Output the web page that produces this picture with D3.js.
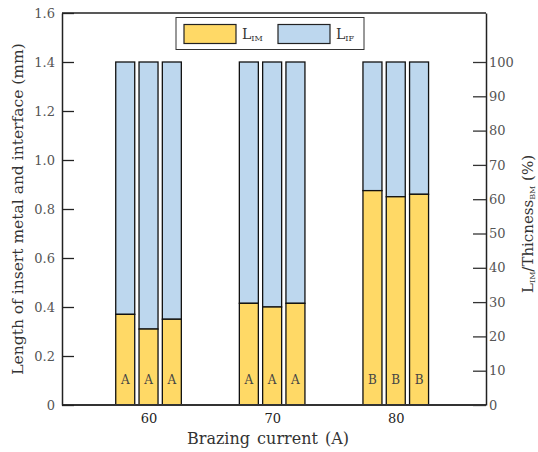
<!DOCTYPE html>
<html>
<head>
<meta charset="utf-8">
<script src="https://cdn.jsdelivr.net/npm/d3@7"></script>
<style>
  body { margin: 0; background: #fff; }
  text { font-family: "DejaVu Serif", "Liberation Serif", serif; }
</style>
</head>
<body>
<svg id="chart" width="538" height="452"></svg>
<script>
// data
const currents = [60, 70, 80];
const lIM = [
  [0.37, 0.31, 0.35],
  [0.415, 0.40, 0.415],
  [0.875, 0.85, 0.86]
];
const totalLen = [
  [1.4, 1.4, 1.4],
  [1.4, 1.4, 1.4],
  [1.4, 1.4, 1.4]
];
const groupLetters = ["A", "A", "B"];
const leftTicks = [0, 0.2, 0.4, 0.6, 0.8, 1.0, 1.2, 1.4, 1.6];
const rightTicks = [0, 10, 20, 30, 40, 50, 60, 70, 80, 90, 100];

const svg = d3.select("#chart");
const margin = {left: 62, right: 52, top: 13, bottom: 47};
const width = +svg.attr("width");
const height = +svg.attr("height");
const x0 = margin.left, x1 = width - margin.right;
const y0 = height - margin.bottom, y1 = margin.top;

const x = d3.scaleLinear().domain([53, 87.3]).range([x0, x1]);
const y = d3.scaleLinear().domain([0, 1.6]).range([y0, y1]);
// right axis: 100 % lines up with 1.4 mm
const yR = d3.scaleLinear().domain([0, 1.6 / 1.4 * 100]).range([y0, y1]);

const yellow = "#FFD966", blue = "#BDD7EE";
const barW = 19, step = 23.3;

// bars
currents.forEach((c, gi) => {
  lIM[gi].forEach((v, bi) => {
    const bx = x(c) + (bi - 1) * step - barW / 2;
    svg.append("rect")
      .attr("x", bx).attr("y", y(totalLen[gi][bi]))
      .attr("width", barW).attr("height", y(v) - y(totalLen[gi][bi]))
      .attr("fill", blue).attr("stroke", "#111").attr("stroke-width", 1.3);
    svg.append("rect")
      .attr("x", bx).attr("y", y(v))
      .attr("width", barW).attr("height", y(0) - y(v))
      .attr("fill", yellow).attr("stroke", "#111").attr("stroke-width", 1.3);
    svg.append("text")
      .attr("x", bx + barW / 2).attr("y", y(0) - 21)
      .attr("text-anchor", "middle")
      .style("font-size", "12px").attr("fill", "#444")
      .text(groupLetters[gi]);
  });
});

// frame: top and bottom lines, left and right axes
svg.append("line").attr("x1", x0).attr("x2", x1).attr("y1", y1).attr("y2", y1)
  .attr("stroke", "#222").attr("stroke-width", 1.5);
svg.append("line").attr("x1", x0).attr("x2", x1).attr("y1", y0).attr("y2", y0)
  .attr("stroke", "#333").attr("stroke-width", 2);

const left = svg.append("g").attr("transform", `translate(${x0},0)`)
  .call(d3.axisLeft(y).tickValues(leftTicks).tickSizeInner(-12).tickSizeOuter(0)
    .tickPadding(7).tickFormat(d => d === 0 ? "0" : d3.format(".1f")(d)));
left.select(".domain").attr("stroke", "#222").attr("stroke-width", 1.5);
left.selectAll(".tick line").attr("stroke", "#222").attr("stroke-width", 1.3);
left.selectAll(".tick text").attr("fill", "#555").style("font-size", "13px")
  .style("font-family", "DejaVu Serif");

const right = svg.append("g").attr("transform", `translate(${x1},0)`)
  .call(d3.axisRight(yR).tickValues(rightTicks).tickSizeInner(-13).tickSizeOuter(0)
    .tickPadding(3));
right.select(".domain").attr("stroke", "#222").attr("stroke-width", 1.5);
right.selectAll(".tick line").attr("stroke", "#333").attr("stroke-width", 1.3);
right.selectAll(".tick text").attr("fill", "#555").style("font-size", "13px")
  .style("font-family", "DejaVu Serif");

// x tick labels (no tick marks)
const bottom = svg.append("g").attr("transform", `translate(0,${y0})`)
  .call(d3.axisBottom(x).tickValues(currents).tickSize(0).tickPadding(9));
bottom.select(".domain").remove();
bottom.selectAll(".tick text").attr("fill", "#222").style("font-size", "13px")
  .style("font-family", "DejaVu Serif");

// axis titles
svg.append("text")
  .attr("x", 268).attr("y", 444)
  .attr("text-anchor", "middle").attr("fill", "#333")
  .style("font-size", "16px").style("word-spacing", "2px")
  .text("Brazing current (A)");

svg.append("text")
  .attr("transform", `translate(23,${(y0 + y1) / 2}) rotate(-90)`)
  .attr("text-anchor", "middle").attr("fill", "#333")
  .style("font-size", "15.5px")
  .text("Length of insert metal and interface (mm)");

const rt = svg.append("text")
  .attr("transform", `translate(533,224) rotate(-90)`)
  .attr("text-anchor", "middle").attr("fill", "#333")
  .style("font-size", "15px");
rt.append("tspan").text("L");
rt.append("tspan").attr("dy", 2).style("font-size", "8px").text("IM");
rt.append("tspan").attr("dy", -2).text("/Thicness");
rt.append("tspan").attr("dy", 2).style("font-size", "8px").text("BM");
rt.append("tspan").attr("dy", -2).text(" (%)");

// legend
const lg = svg.append("g");
lg.append("rect").attr("x", 176).attr("y", 17.5).attr("width", 188).attr("height", 32)
  .attr("fill", "#fff").attr("stroke", "#333").attr("stroke-width", 1);
const legendItems = [
  {fill: yellow, label: "L", sub: "IM", x: 184},
  {fill: blue, label: "L", sub: "IF", x: 278}
];
legendItems.forEach(d => {
  lg.append("rect").attr("x", d.x).attr("y", 24.5).attr("width", 52).attr("height", 19)
    .attr("fill", d.fill).attr("stroke", "#222").attr("stroke-width", 1.2);
  const t = lg.append("text").attr("x", d.x + 58).attr("y", 39).attr("fill", "#333")
    .style("font-size", "14px");
  t.append("tspan").text(d.label);
  t.append("tspan").attr("dy", 2).style("font-size", "8px").text(d.sub);
});
</script>
</body>
</html>
